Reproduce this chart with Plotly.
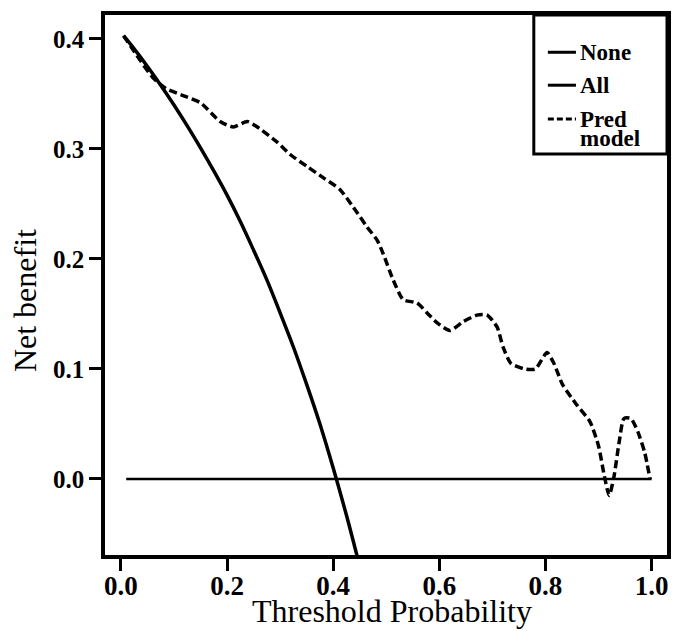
import plotly.graph_objects as go

# Threshold probabilities and net benefit values
none_x = [0.01, 1.0]
none_y = [0.0, 0.0]

all_x = [0.005, 0.025, 0.05, 0.075, 0.1, 0.125, 0.15, 0.175, 0.2, 0.225, 0.25,
         0.275, 0.3, 0.325, 0.35, 0.375, 0.4, 0.425, 0.445]
all_y = [0.403, 0.391, 0.375, 0.358, 0.340, 0.321, 0.301, 0.280, 0.258, 0.234, 0.208,
         0.181, 0.151, 0.120, 0.086, 0.050, 0.010, -0.033, -0.070]

pred_x = [0.005, 0.03, 0.06, 0.085, 0.12, 0.15, 0.187, 0.212, 0.238, 0.257, 0.295,
          0.319, 0.351, 0.381, 0.413, 0.438, 0.464, 0.483, 0.494, 0.513, 0.532,
          0.558, 0.577, 0.596, 0.620, 0.645, 0.671, 0.690, 0.709, 0.720, 0.735,
          0.761, 0.781, 0.803, 0.816, 0.832, 0.858, 0.884, 0.900, 0.910, 0.920,
          0.929, 0.939, 0.948, 0.961, 0.974, 0.987, 0.997]
pred_y = [0.403, 0.385, 0.365, 0.355, 0.348, 0.342, 0.325, 0.320, 0.325, 0.320, 0.306,
          0.295, 0.284, 0.274, 0.263, 0.247, 0.229, 0.217, 0.205, 0.181, 0.163,
          0.160, 0.151, 0.142, 0.135, 0.143, 0.149, 0.149, 0.138, 0.120, 0.105,
          0.100, 0.100, 0.115, 0.105, 0.086, 0.068, 0.052, 0.030, 0.005, -0.015,
          0.002, 0.034, 0.055, 0.055, 0.043, 0.024, 0.000]

x_ticks = [0.0, 0.2, 0.4, 0.6, 0.8, 1.0]
x_tick_labels = ["0.0", "0.2", "0.4", "0.6", "0.8", "1.0"]
y_ticks = [0.0, 0.1, 0.2, 0.3, 0.4]
y_tick_labels = ["0.0", "0.1", "0.2", "0.3", "0.4"]

legend_names = ["None", "All", "Pred", "model"]

serif = "Liberation Serif"

fig = go.Figure()
fig.add_trace(go.Scatter(x=none_x, y=none_y, mode="lines", name="None",
                         line=dict(color="black", width=2.5)))
fig.add_trace(go.Scatter(x=all_x, y=all_y, mode="lines", name="All",
                         line=dict(color="black", width=3.5, shape="spline")))
fig.add_trace(go.Scatter(x=pred_x, y=pred_y, mode="lines", name="Pred model",
                         line=dict(color="black", width=3.5, dash="8px,4px", shape="spline",
                                   smoothing=0.6)))

# Manual legend box (paper coordinates)
fig.add_shape(type="rect", xref="paper", yref="paper", x0=0.763, x1=1.0, y0=0.7426, y1=1.0,
              line=dict(color="black", width=3), fillcolor="white", layer="above")
legend_rows = [(0.931, "solid", 3), (0.870, "solid", 3), (0.8074, "6px,3px", 3)]
for yy, dash, w in legend_rows:
    fig.add_shape(type="line", xref="paper", yref="paper", x0=0.788, x1=0.838, y0=yy, y1=yy,
                  line=dict(color="black", width=w, dash=dash), layer="above")
legend_text_y = [0.931, 0.870, 0.8074, 0.7722]
for name, yy in zip(legend_names, legend_text_y):
    fig.add_annotation(x=0.8416, y=yy, xref="paper", yref="paper", text=name, showarrow=False,
                       xanchor="left", yanchor="middle",
                       font=dict(family=serif, size=23, color="black", weight="bold"))

# Axis titles
fig.add_annotation(x=0.511, y=-0.1037, xref="paper", yref="paper", text="Threshold Probability",
                   showarrow=False, xanchor="center", yanchor="middle",
                   font=dict(family=serif, size=32, color="black"))
fig.add_annotation(x=-0.1424, y=0.472, xref="paper", yref="paper", text="Net benefit",
                   showarrow=False, xanchor="center", yanchor="middle", textangle=-90,
                   font=dict(family=serif, size=32, color="black"))

fig.update_layout(
    width=675, height=631,
    margin=dict(l=105, r=8, t=15, b=76),
    paper_bgcolor="white", plot_bgcolor="white",
    font=dict(family=serif, color="black"),
    showlegend=False,
    xaxis=dict(range=[-0.030, 1.029], tickvals=x_ticks, ticktext=x_tick_labels,
               showgrid=False, zeroline=False, showline=True, linecolor="black",
               linewidth=3.5, mirror=True, ticks="outside", ticklen=12, tickwidth=3,
               tickcolor="black", automargin=False, ticklabelstandoff=-8,
               tickfont=dict(family=serif, size=27, color="black", weight="bold")),
    yaxis=dict(range=[-0.0691, 0.4218], tickvals=y_ticks, ticktext=y_tick_labels,
               showgrid=False, zeroline=False, showline=True, linecolor="black",
               linewidth=3.5, mirror=True, ticks="outside", ticklen=12, tickwidth=3,
               tickcolor="black", automargin=False,
               tickfont=dict(family=serif, size=25, color="black", weight="bold")),
)

fig.write_html("out.html", config={"displayModeBar": False},
               post_script="document.body.style.margin='0';document.body.style.padding='0';")
